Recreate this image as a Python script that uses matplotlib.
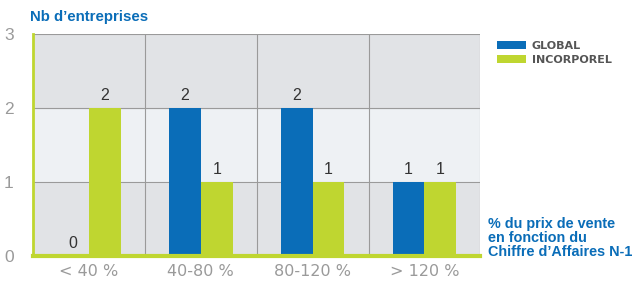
import numpy as np
import matplotlib
matplotlib.use('Agg')
import matplotlib.pyplot as plt

plt.rcParams['font.family'] = ['Liberation Sans', 'DejaVu Sans']

# Données
categories = ['< 40 %', '40-80 %', '80-120 %', '> 120 %']
global_vals = [0, 2, 2, 1]
incorporel_vals = [2, 1, 1, 1]

bleu = '#0a6db8'
vert = '#bfd630'
gris = '#9a9a9a'

fig = plt.figure(figsize=(6.37, 2.81), dpi=100)
ax = fig.add_axes([0.052, 0.089, 0.702, 0.79])

# Bandes de fond
ax.axhspan(0, 1, color='#e1e3e6', zorder=0)
ax.axhspan(1, 2, color='#eef1f4', zorder=0)
ax.axhspan(2, 3, color='#e1e3e6', zorder=0)
for y in [1, 2, 3]:
    ax.axhline(y, color='#9a9a9a', lw=0.8, zorder=1)
for x in [0.5, 1.5, 2.5, 3.5]:
    ax.axvline(x, color='#9a9a9a', lw=0.8, zorder=1)

x = np.arange(len(categories))
w = 0.285
b1 = ax.bar(x - w / 2, global_vals, w, color=bleu, label='GLOBAL', zorder=2)
b2 = ax.bar(x + w / 2, incorporel_vals, w, color=vert, label='INCORPOREL', zorder=2)

for bars in (b1, b2):
    for r in bars:
        ax.text(r.get_x() + r.get_width() / 2, r.get_height() + 0.07,
                str(int(r.get_height())), ha='center', va='bottom',
                fontsize=11.5, color='#333333', zorder=3)

ax.set_xlim(-0.5, 3.5)
ax.set_ylim(0, 3)
ax.set_yticks([0, 1, 2, 3])
ax.set_xticks(x)
ax.set_xticklabels(categories, fontsize=11.5, color=gris, fontfamily='Liberation Sans Narrow')
ax.tick_params(axis='y', length=0, labelsize=12.5, labelcolor=gris, pad=14)
ax.tick_params(axis='x', length=0, pad=6)

for s in ['top', 'right']:
    ax.spines[s].set_visible(False)
ax.spines['left'].set_color(vert)
ax.spines['left'].set_linewidth(2)
ax.spines['bottom'].set_color(vert)
ax.spines['bottom'].set_linewidth(3)
ax.spines['left'].set_zorder(4)
ax.spines['bottom'].set_zorder(4)

fig.text(0.047, 0.915, 'Nb d\u2019entreprises', color=bleu, fontsize=10.8,
         fontweight='bold', ha='left', va='bottom')

leg = fig.legend(handles=[b1, b2], loc='upper left', bbox_to_anchor=(0.765, 0.89),
                 frameon=False, handlelength=2.6, handleheight=0.8,
                 labelspacing=0.35, handletextpad=0.5,
                 prop={'family': 'Liberation Sans Narrow', 'weight': 'bold', 'size': 8})
for t in leg.get_texts():
    t.set_color('#555555')

fig.text(0.766, 0.08, '% du prix de vente\nen fonction du\nChiffre d\u2019Affaires N-1',
         color=bleu, fontsize=10.4, fontweight='bold', ha='left', va='bottom',
         linespacing=1.0)

fig.savefig('out.png', dpi=100)
